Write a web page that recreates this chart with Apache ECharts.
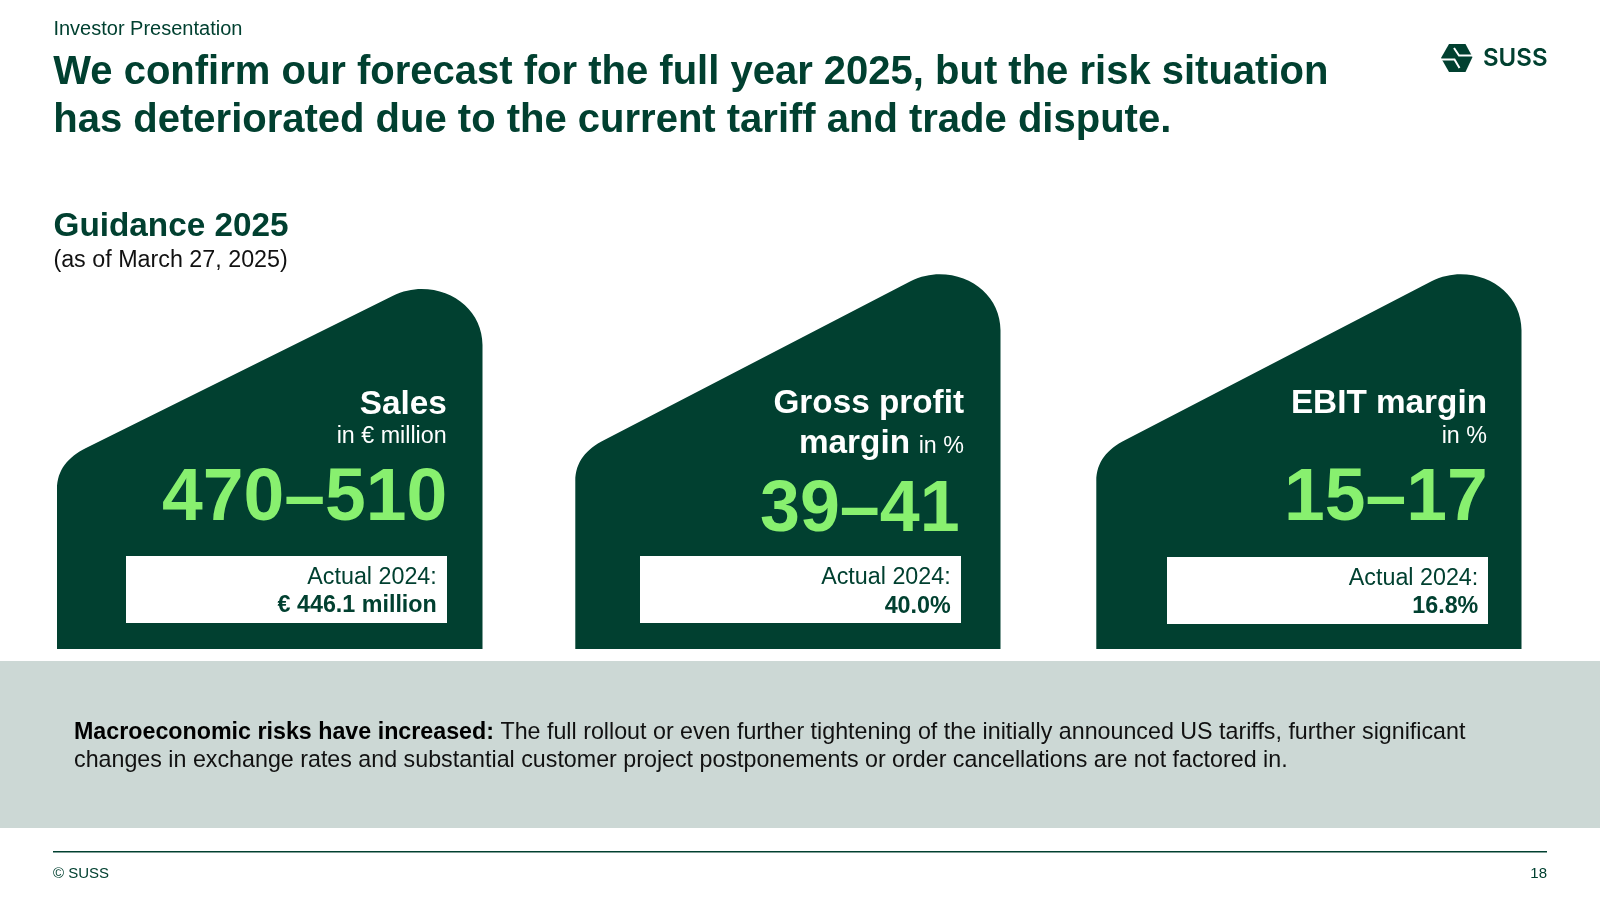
<!DOCTYPE html>
<html><head><meta charset="utf-8">
<style>html,body{margin:0;padding:0;background:#fff}#c{width:1600px;height:900px}</style>
<script src="https://cdn.jsdelivr.net/npm/echarts@6/dist/echarts.min.js"></script>
</head><body><div id="c"></div>
<script>
const kicker = 'Investor Presentation';
const headlineLines = ['We confirm our forecast for the full year 2025, but the risk situation', 'has deteriorated due to the current tariff and trade dispute.'];
const guidanceTitle = 'Guidance 2025';
const guidanceNote = '(as of March 27, 2025)';
const metricNames = ['Sales', 'Gross profit', 'EBIT margin'];
const metricUnits = ['in € million', 'in %', 'in %'];
const ranges = ['470–510', '39–41', '15–17'];
const actualLabel = 'Actual 2024:';
const actuals = ['€ 446.1 million', '40.0%', '16.8%'];
const riskLead = 'Macroeconomic risks have increased:';
const riskLine1 = ' The full rollout or even further tightening of the initially announced US tariffs, further significant';
const riskLine2 = 'changes in exchange rates and substantial customer project postponements or order cancellations are not factored in.';
const footerLeft = '© SUSS';
const footerRight = '18';
const brand = 'SUSS';

const DARK = '#014030', GREEN = '#88F06F', F = '"Liberation Sans", Arial, sans-serif';

echarts.graphic.registerShape('vectorShape', echarts.graphic.extendShape({
  shape: { cmds: [] },
  buildPath(ctx, shape) {
    shape.cmds.forEach(c => {
      if (c[0] === 'M') ctx.moveTo(c[1], c[2]);
      else if (c[0] === 'L') ctx.lineTo(c[1], c[2]);
      else if (c[0] === 'C') ctx.bezierCurveTo(c[1], c[2], c[3], c[4], c[5], c[6]);
      else ctx.closePath();
    });
  }
}));

const txt = (text, x, base, size, fill, align, weight) => ({
  type: 'text', style: { text, x, y: base - 0.28 * size, fill, align: align || 'left', verticalAlign: 'middle',
    font: (weight || 'normal') + ' ' + size + 'px ' + F }
});
const rect = (x, y, width, height, fill) => ({ type: 'rect', shape: { x, y, width, height }, style: { fill } });

function cardCmds(l, r, t, b, sy) {
  return [['M', l, b], ['L', l, sy + 41], ['C', l, sy + 22, l + 11, sy + 9, l + 29, sy],
    ['L', r - 90, t + 7], ['C', r - 80, t + 2, r - 70, t, r - 61, t], ['C', r - 27, t, r, t + 24, r, t + 56], ['L', r, b], ['Z']];
}
const layout = [
  { l: 57, r: 482.5, top: 289, sh: 448, bx: 126, bw: 321, by: 556, bh: 67, tx: 446.7, ax: 436.8, n: 413.7, u: 442.7, v: 520, a1: 584.3, a2: 612.3, vs: 73.3, vx: 447.3 },
  { l: 575.3, r: 1000.5, top: 274.3, sh: 440, bx: 640, bw: 321, by: 556, bh: 67, tx: 964, ax: 950.7, n: 413.2, u: 452.9, v: 531.7, a1: 584.3, a2: 612.6, vs: 71.8, vx: 959.6 },
  { l: 1096.3, r: 1521.5, top: 274.3, sh: 440, bx: 1167, bw: 321, by: 557, bh: 67, tx: 1487, ax: 1478.3, n: 413.2, u: 442.7, v: 520, a1: 585, a2: 613.2, vs: 73.3, vx: 1487.7 }
];

const g = [];
g.push(txt(kicker, 53.4, 35, 20, DARK));
g.push(txt(headlineLines[0], 53.3, 84, 40, DARK, 'left', 'bold'));
g.push(txt(headlineLines[1], 53.3, 132, 40, DARK, 'left', 'bold'));
g.push(txt(guidanceTitle, 53.5, 236.3, 33.3, DARK, 'left', 'bold'));
g.push(txt(guidanceNote, 53.4, 267, 23.3, '#111'));

layout.forEach((c, i) => {
  g.push({ type: 'vectorShape', shape: { cmds: cardCmds(c.l, c.r, c.top, 649, c.sh) }, style: { fill: DARK } });
  g.push(rect(c.bx, c.by, c.bw, c.bh, '#fff'));
  g.push(txt(metricNames[i], c.tx, c.n, 33.3, '#fff', 'right', 'bold'));
  g.push(txt(metricUnits[i], c.tx, c.u, 23.3, '#fff', 'right'));
  if (i === 1) g.push(txt('margin', c.tx - 54, c.u, 33.3, '#fff', 'right', 'bold'));
  g.push(txt(ranges[i], c.vx, c.v, c.vs, GREEN, 'right', 'bold'));
  g.push(txt(actualLabel, c.ax, c.a1, 23.3, DARK, 'right'));
  g.push(txt(actuals[i], c.ax, c.a2, 23.3, DARK, 'right', 'bold'));
});

g.push(rect(0, 661, 1600, 167, '#CCD8D5'));
g.push(txt(riskLead, 74, 739.6, 23.25, '#000', 'left', 'bold'));
g.push(txt(riskLine1, 494, 739.6, 23.25, '#111'));
g.push(txt(riskLine2, 74, 767, 23.25, '#111'));

g.push(rect(53, 851, 1494, 1.5, DARK));
g.push(txt(footerLeft, 53, 878, 15, DARK));
g.push(txt(footerRight, 1547, 878, 15, DARK, 'right'));

// logo: hexagon cut by two white strokes forming an S
g.push({ type: 'vectorShape', shape: { cmds: [['M', 1449, 44], ['L', 1465.5, 44], ['L', 1472.5, 57], ['L', 1465.5, 72], ['L', 1449, 72], ['L', 1441, 58], ['Z']] }, style: { fill: DARK } });
g.push({ type: 'polyline', shape: { points: [[1454, 48], [1459, 55.5], [1473, 55.5]] }, style: { stroke: '#fff', lineWidth: 2, fill: null } });
g.push({ type: 'polyline', shape: { points: [[1440, 59.5], [1454.5, 59.5], [1459.5, 68]] }, style: { stroke: '#fff', lineWidth: 2, fill: null } });
g.push({ type: 'text', style: { text: brand, x: 1483, y: 59, align: 'left', verticalAlign: 'middle', fill: DARK, font: '600 24px Inter, sans-serif' } });

const chart = echarts.init(document.getElementById('c'), null, { renderer: 'canvas', width: 1600, height: 900 });
chart.setOption({ backgroundColor: '#fff', animation: false, graphic: { elements: g } });
</script></body></html>
